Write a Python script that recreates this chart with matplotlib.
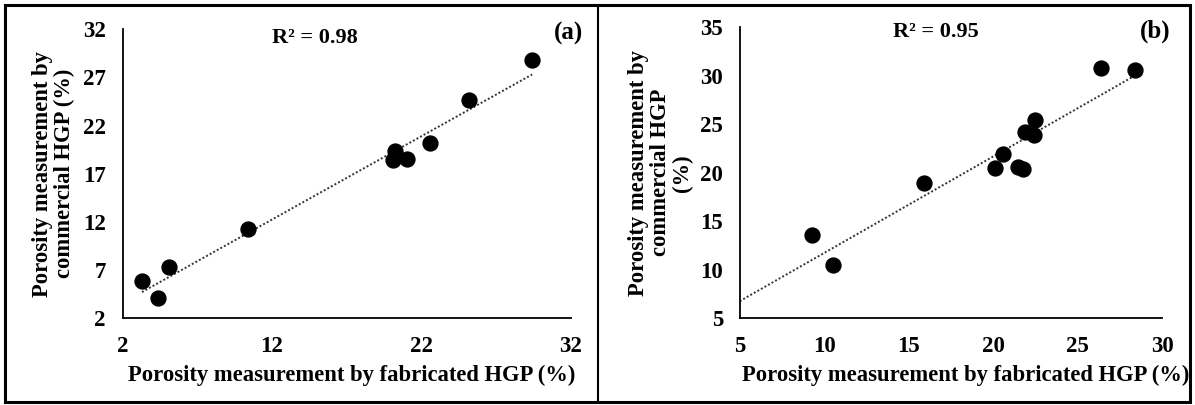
import numpy as np
import matplotlib
matplotlib.use("Agg")
import matplotlib.pyplot as plt
from matplotlib.patches import Rectangle
from matplotlib.lines import Line2D

plt.rcParams["font.family"] = ["Liberation Serif", "DejaVu Serif"]
plt.rcParams["font.weight"] = "bold"

# ---------- data: porosity (%) fabricated HGP vs commercial HGP ----------
fab_a = [3.3, 4.4, 5.1, 10.4, 20.2, 20.1, 21.0, 22.6, 25.2, 29.4]
com_a = [5.9, 4.1, 7.3, 11.3, 19.4, 18.4, 18.5, 20.2, 24.7, 28.8]
r2_a = "R² = 0.98"

fab_b = [9.3, 10.5, 15.9, 20.1, 20.6, 21.5, 21.8, 21.9, 22.4, 22.5, 26.4, 28.4]
com_b = [13.6, 10.5, 19.0, 20.5, 21.9, 20.6, 20.4, 24.2, 23.9, 25.4, 30.8, 30.6]
r2_b = "R² = 0.95"

xticks_a = [2, 12, 22, 32]
yticks_a = [2, 7, 12, 17, 22, 27, 32]
xticks_b = [5, 10, 15, 20, 25, 30]
yticks_b = [5, 10, 15, 20, 25, 30, 35]

xlab = "Porosity measurement by fabricated HGP (%)"
ylab_a = "Porosity measurement by\ncommercial HGP (%)"
ylab_b = "Porosity measurement by\ncommercial HGP\n(%)"

W, H = 1195, 405
fig = plt.figure(figsize=(W / 100, H / 100), dpi=100)


def px_box(x0, x1, ytop, ybot):
    return [x0 / W, 1 - ybot / H, (x1 - x0) / W, (ybot - ytop) / H]


def panel(rect, xs, ys, xt, yt, trend_x0, r2, r2_xy, tag, tag_xy, ylab, ylab_x, xlab_xy):
    ax = fig.add_axes(rect)
    ax.scatter(xs, ys, s=115, color="black", zorder=3)
    k, b = np.polyfit(xs, ys, 1)
    tx = np.array([trend_x0, max(xs)])
    ax.plot(tx, k * tx + b, color="#333333", lw=1.4, ls=(0, (1, 1.1)), zorder=2)
    ax.set_xlim(xt[0], xt[-1])
    ax.set_ylim(yt[0], yt[-1])
    ax.set_xticks(xt)
    ax.set_yticks(yt)
    ax.tick_params(length=0, labelsize=16.5)
    ax.tick_params(axis="x", pad=13)
    ax.tick_params(axis="y", pad=12)
    for s in ["top", "right"]:
        ax.spines[s].set_visible(False)
    for s in ["left", "bottom"]:
        ax.spines[s].set_linewidth(1.3)
    ax.set_xlabel(xlab, fontsize=16.3, fontweight="bold")
    ax.xaxis.set_label_coords(*xlab_xy)
    ax.set_ylabel(ylab, fontsize=16.3, fontweight="bold", linespacing=1.05)
    ax.yaxis.set_label_coords(ylab_x, 0.5)
    ax.text(*r2_xy, r2, transform=ax.transAxes, ha="center", va="center",
            fontsize=16, fontweight="bold")
    ax.text(*tag_xy, tag, transform=ax.transAxes, ha="center", va="center",
            fontsize=18, fontweight="bold")
    return ax


panel(px_box(122.5, 571, 29.3, 318.3), fab_a, com_a, xticks_a, yticks_a,
      min(fab_a), r2_a, (0.43, 0.97), "(a)", (0.995, 0.985), ylab_a, -0.106, (0.51, -0.16))
panel(px_box(739.7, 1162, 27.3, 318.3), fab_b, com_b, xticks_b, yticks_b,
      xticks_b[0], r2_b, (0.465, 0.985), "(b)", (0.985, 0.985), ylab_b, -0.11, (0.535, -0.16))

# outer frame and divider
fig.patches.append(Rectangle((5 / W, 1 - 402 / H), 1185 / W, 397 / H,
                             transform=fig.transFigure, fill=False,
                             edgecolor="black", lw=2.2, zorder=5))
fig.lines.append(Line2D([598 / W, 598 / W], [1 - 402 / H, 1 - 5 / H],
                        transform=fig.transFigure, color="black", lw=1.5))

fig.savefig("out.png", dpi=100)
